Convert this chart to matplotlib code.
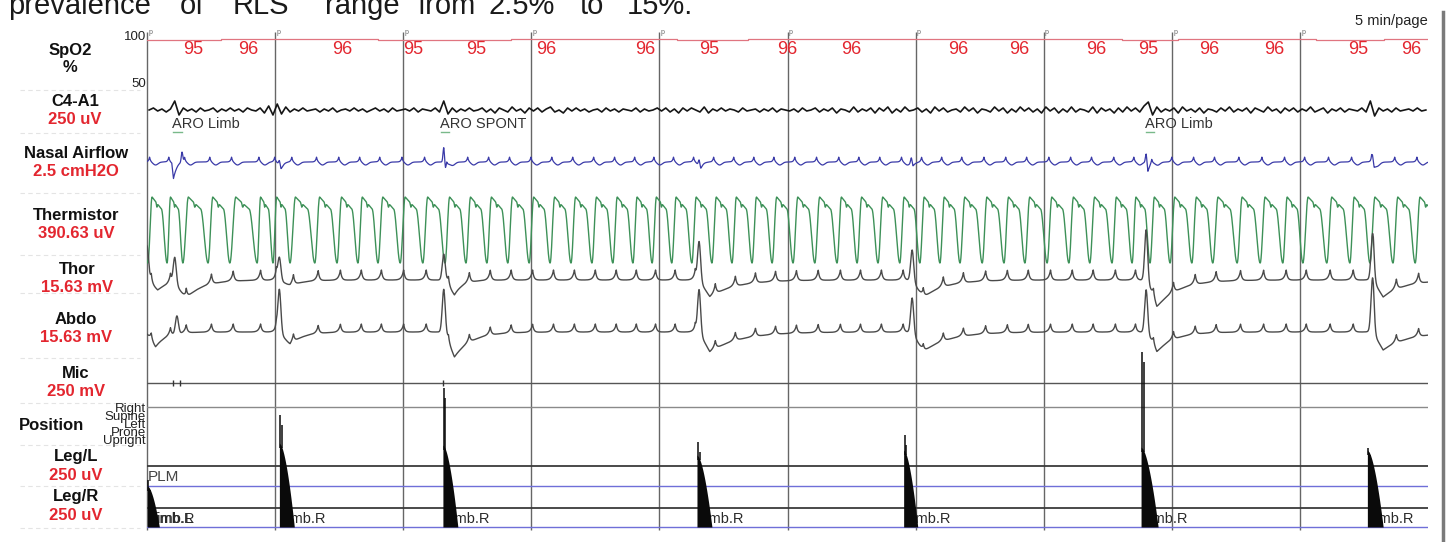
import numpy as np
import matplotlib
matplotlib.use("Agg")
import matplotlib.pyplot as plt

plt.rcParams["font.family"] = ["Liberation Sans", "DejaVu Sans"]

W, H = 1448, 542
PAGE_SEC = 300
EPOCH_SEC = 30

# ---------------------------------------------------------------- data
spo2_times = [10.8, 23.7, 45.7, 62.3, 77.0, 93.4, 116.6, 131.6, 149.9, 164.9,
              189.9, 204.2, 222.2, 234.4, 248.7, 263.9, 283.6, 296.0]
spo2_values = [95, 96, 96, 95, 95, 96, 96, 95, 96, 96,
               96, 96, 96, 95, 96, 96, 95, 96]

# onset (trough) of each breath on the thermistor, seconds into the page
breath_times = [0.2, 4.7, 8.4, 14.3, 19.4, 25.8, 29.5, 33.5, 39.3, 44.5,
                49.4, 54.1, 59.3, 64.6, 69.8, 74.7, 79.6, 84.5, 89.5, 94.4,
                99.3, 104.2, 109.1, 113.8, 118.3, 122.9, 127.6, 132.3, 137.0, 141.7,
                146.4, 151.3, 156.4, 161.6, 166.3, 171.2, 176.3, 181.0, 185.7, 190.4,
                195.6, 200.7, 205.6, 210.8, 215.9, 220.8, 226.0, 230.7, 234.9, 239.6,
                244.7, 249.6, 255.3, 260.7, 266.0, 270.7, 276.3, 281.7, 286.4, 291.8,
                297.0]

# C4-A1, one sample per second (pixels, up positive)
eeg_values = [
    0, 2, -1, 1, -2, 1, 9, -5, 2, -1,
    1, -2, 2, -1, 0, 2, -2, 1, -1, 2,
    -1, 1, -2, 2, 0, -1, 2, -3, 4, -5,
    6, -4, 3, -2, 1, -1, 2, -1, 0, 1,
    -2, 1, -1, 2, -2, 0, 1, -1, 2, -1,
    1, -2, 0, 2, -1, 1, -2, 2, -1, 0,
    1, -1, 2, -2, 1, 0, -1, 2, -2, 9,
    -4, 2, -2, 1, -1, 2, -1, 0, 2, -2,
    1, -3, 2, 0, -2, 3, -1, 1, -3, 2,
    -1, 2, -2, 1, 3, -2, 0, -3, 2, -1,
    2, -1, 1, -2, 0, 1, -2, 2, -1, 1,
    -2, 1, 0, -1, 2, -2, 1, -1, 0, 2,
    -1, 2, -2, 1, -3, 2, -1, 2, 0, -2,
    3, -3, 1, -1, 2, -1, 1, 0, -2, 2,
    -1, 0, 1, -2, 1, -1, 2, -2, 1, 0,
    -1, 1, -2, 2, -1, 0, 2, -2, 1, -1,
    2, -3, 1, 0, -2, 3, -2, 1, -1, 2,
    -3, 2, -1, 3, -3, 1, -2, 3, -1, 0,
    2, -2, 1, -3, 3, -1, 2, -2, 0, 1,
    -2, 3, -1, 2, -3, 1, 0, -2, 3, -1,
    2, -3, 1, -2, 3, -1, 2, -2, 1, -3,
    3, -1, 2, -3, 1, -2, 3, -2, 1, 0,
    -2, 3, -3, 2, -1, 1, -3, 2, -2, 3,
    -1, 2, -2, 4, 8, -5, 3, -2, 1, -1,
    2, -3, 3, -1, 1, -2, 2, -3, 1, 0,
    -2, 2, -1, 3, -2, 1, -1, 2, -3, 2,
    0, -2, 3, -1, 1, -3, 2, -1, 2, -2,
    1, -1, 3, -2, 0, 2, -3, 1, -1, 2,
    -2, 1, 0, -1, 2, -2, 9, -6, 2, -1,
    1, -2, 2, -1, 0, 1, -1, 2, -1, 0,
]

# effort-belt events: time (s), upward spike (px), following dip (px), recovery (s)
thor_event_t = [0.0, 6.5, 31.0, 69.5, 129.3, 179.2, 234.0, 287.0]
thor_event_up = [33, 25, 22, 25, 38, 30, 50, 40]
thor_event_dip = [10, 18, 6, 15, 17, 18, 27, 17]
thor_event_tau = [3, 4, 3, 2, 6, 5, 5, 5]

abdo_event_t = [-0.5, 7.0, 31.0, 69.5, 129.3, 179.2, 234.0, 287.0]
abdo_event_up = [0, 18, 42, 42, 42, 34, 42, 49]
abdo_event_dip = [15, 0, 13, 25, 20, 20, 20, 18]
abdo_event_tau = [2.5, 1, 3, 4, 7, 6, 4, 6]

nasal_event_t = [5.8, 8.2, 31.0, 69.5, 129.3, 179.0, 234.0, 287.0]
nasal_event_up = [0, 10, 4, 14, 5, 5, 8, 5]
nasal_event_dip = [14, 0, 4, 8, 4, 4, 10, 5]

# leg EMG bursts: onset (s), duration (s), top of burst (px row), tallest spike (px row)
limb_onsets = [0.1, 31.0, 69.3, 128.8, 177.2, 232.8, 285.8]
limb_durations = [2.8, 3.5, 3.5, 3.5, 3.3, 4.0, 3.7]
limb_tops = [486, 443, 445, 455, 450, 447, 450]
limb_spikes = [480, 415, 388, 442, 435, 352, 448]

arousal_times = [5.9, 68.6, 233.7]
arousal_labels = ["ARO Limb", "ARO SPONT", "ARO Limb"]

mic_tick_times = [6.0, 7.8, 69.4]

channels = [("SpO2", "%"), ("C4-A1", "250 uV"), ("Nasal Airflow", "2.5 cmH2O"),
            ("Thermistor", "390.63 uV"), ("Thor", "15.63 mV"), ("Abdo", "15.63 mV"),
            ("Mic", "250 mV"), ("Position", None), ("Leg/L", "250 uV"), ("Leg/R", "250 uV")]
position_levels = ["Right", "Supine", "Left", "Prone", "Upright"]

# ---------------------------------------------------------------- layout (pixel rows)
Y_SPO2_100, Y_SPO2_50 = 37, 84
Y_EEG, Y_NASAL = 110, 162
Y_THERM_TOP, Y_THERM_LOW = 197, 263
Y_THOR, Y_ABDO = 280, 332
Y_MIC, Y_POS = 383, 407
Y_LEGL, Y_PLM, Y_LEGR, Y_LIMBR = 466, 486, 508, 527

RED = "#e3262f"
TRACE_GRAY = "#4a4a4a"
GREEN = "#3d9158"
BLUE = "#3a3aa8"
EVENT_BLUE = "#6f6fd8"

fig = plt.figure(figsize=(W / 100, H / 100), dpi=100)
fig.patch.set_facecolor("white")
x0, x1 = 147, 1428
ax = fig.add_axes([x0 / W, 0, (x1 - x0) / W, 1])
ax.set_xlim(0, PAGE_SEC)
ax.set_ylim(H, 0)
ax.axis("off")


def fpos(x, y):
    return x / W, 1 - y / H


t = np.arange(0, PAGE_SEC + 0.05, 0.05)


def event_offset(tt, te, up, dip, tau, ramp=1.0, width=0.35):
    dt = tt - te
    spike = up * np.exp(-(dt / width) ** 2)
    d = np.where(dt < 0, 0.0,
                 np.where(dt < ramp, dip * dt / ramp, dip * np.exp(-(dt - ramp) / tau)))
    return -spike + d


# ---------------------------------------------------------------- SpO2
spo2_scale = (Y_SPO2_50 - Y_SPO2_100) / 50.0
sp_t = [0] + spo2_times + [PAGE_SEC]
sp_v = [spo2_values[0]] + spo2_values + [spo2_values[-1]]
sp_y = [Y_SPO2_100 - 2 + (100 - v) * spo2_scale for v in sp_v]
ax.plot(sp_t, sp_y, color="#e07580", lw=0.9, drawstyle="steps-mid", zorder=2)
for tv, v in zip(spo2_times, spo2_values):
    ax.text(tv, 49, str(v), color=RED, fontsize=13, ha="center", va="center", zorder=4)

# ---------------------------------------------------------------- C4-A1
eeg_t = np.arange(len(eeg_values)) + 0.5
ax.plot(eeg_t, Y_EEG - np.array(eeg_values), color="#151515", lw=1.2, zorder=2)
for ta, lab in zip(arousal_times, arousal_labels):
    ax.text(ta, 124, lab, color="#333333", fontsize=10.5, ha="left", va="center", zorder=4)
    ax.plot([ta + 0.2, ta + 2.2], [131.5, 131.5], color="#79b98a", lw=1, zorder=3)

# ---------------------------------------------------------------- respiration
bt = np.array(breath_times)
periods = np.diff(bt)
therm = np.zeros_like(t)
for i, tb in enumerate(np.concatenate([[bt[0] - periods[0]], bt])):
    per = periods[min(max(i - 1, 0), len(periods) - 1)]
    u = (t - tb) / per
    m = (u >= 0) & (u < 1)
    uu = u[m]
    h = np.where(uu < 0.22, 0.5 - 0.5 * np.cos(np.pi * uu / 0.22),
                 np.where(uu < 0.70, 1 - 0.18 * (uu - 0.22) / 0.48
                          - 0.06 * np.exp(-((uu - 0.47) / 0.03) ** 2),
                          0.82 * (0.5 + 0.5 * np.cos(np.pi * (uu - 0.70) / 0.30))))
    therm[m] = h
ax.plot(t, Y_THERM_LOW - (Y_THERM_LOW - Y_THERM_TOP) * therm, color=GREEN, lw=1.0, zorder=2)

thor = np.zeros_like(t)
abdo = np.zeros_like(t)
nasal = np.zeros_like(t)
for tb in bt:
    dt = t - (tb + 0.8)
    thor -= 10 * np.exp(-np.abs(dt) / np.where(dt < 0, 0.45, 0.3))
    abdo -= 8 * np.exp(-np.abs(dt) / np.where(dt < 0, 0.45, 0.3))
    dn = t - (tb + 0.4)
    nasal -= 5 * np.exp(-np.abs(dn) / 0.25)
    nasal += 3 * np.exp(-((dn - 1.4) / 0.8) ** 2)
for te, up, dip, tau in zip(thor_event_t, thor_event_up, thor_event_dip, thor_event_tau):
    thor += event_offset(t, te, up, dip, tau, ramp=2.5, width=0.5)
for te, up, dip, tau in zip(abdo_event_t, abdo_event_up, abdo_event_dip, abdo_event_tau):
    abdo += event_offset(t, te, up, dip, tau, ramp=2.5, width=0.5)
for te, up, dip in zip(nasal_event_t, nasal_event_up, nasal_event_dip):
    nasal += event_offset(t, te, up, dip, 0.6, ramp=0.4, width=0.25)

ax.plot(t, Y_NASAL + nasal, color=BLUE, lw=0.9, zorder=2)
ax.plot(t, Y_THOR + thor, color=TRACE_GRAY, lw=1.0, zorder=2)
ax.plot(t, Y_ABDO + abdo, color=TRACE_GRAY, lw=1.0, zorder=2)

# ---------------------------------------------------------------- Mic / Position
ax.plot([0, PAGE_SEC], [Y_MIC, Y_MIC], color="#555555", lw=1.0, zorder=2)
ax.vlines(mic_tick_times, Y_MIC - 3, Y_MIC + 3, color="#333333", lw=1.0, zorder=2)
ax.plot([0, PAGE_SEC], [Y_POS, Y_POS], color="#8a8a8a", lw=1.0, zorder=2)

# ---------------------------------------------------------------- legs
ax.plot([0, PAGE_SEC], [Y_LEGL, Y_LEGL], color="#3a3a3a", lw=1.3, zorder=2)
ax.plot([0, PAGE_SEC], [Y_PLM, Y_PLM], color=EVENT_BLUE, lw=1.0, zorder=2)
ax.plot([0, PAGE_SEC], [Y_LEGR, Y_LEGR], color="#3a3a3a", lw=1.3, zorder=2)
ax.plot([0, PAGE_SEC], [Y_LIMBR, Y_LIMBR], color=EVENT_BLUE, lw=1.0, zorder=2)
ax.text(0.2, 477, "PLM", color="#444444", fontsize=11, ha="left", va="center", zorder=1)

for t0, dur, top, spk in zip(limb_onsets, limb_durations, limb_tops, limb_spikes):
    yy = np.linspace(top, Y_LIMBR, 40)
    frac = (yy - top) / (Y_LIMBR - top)
    ax.fill_betweenx(yy, t0, t0 + dur * frac ** 0.6, color="#0a0a0a", lw=0, zorder=3)
    ax.vlines([t0 + 0.25, t0 + 0.6], [spk, spk + 10], top + 5, color="#0a0a0a", lw=1.1, zorder=3)
    ax.text(t0 + 0.2, 519, "Limb.R", color="#2a2a2a", fontsize=10.5, ha="left", va="center",
            zorder=1)
ax.text(limb_onsets[0] + 0.6, 519, "Limb.L", color="#2a2a2a", fontsize=10.5, ha="left",
        va="center", zorder=1)

# ---------------------------------------------------------------- epoch grid
epochs = np.arange(0, PAGE_SEC, EPOCH_SEC)
ax.vlines(epochs, 32, 530, color="#666666", lw=1.0, zorder=1, clip_on=False)
for e in epochs:
    ax.text(e + 0.3, 33, "p", fontsize=5, color="#666666", ha="left", va="center")

# ---------------------------------------------------------------- left labels
label_rows = [(50, 68), (102, 120), (154, 172), (216, 234), (269, 287),
              (320, 338), (373, 391), (425, None), (457, 475), (496, 515)]
label_x = [70, 75, 76, 76, 77, 76, 76, 52, 76, 76]
for (name, scale), (yn, ys), lx in zip(channels, label_rows, label_x):
    fig.text(*fpos(lx, yn), name, fontsize=12, fontweight="bold", color="#111111",
             ha="center", va="center")
    if scale is not None:
        fig.text(*fpos(lx, ys), scale, fontsize=12, fontweight="bold",
                 color="#111111" if scale == "%" else RED, ha="center", va="center")

for i, lev in enumerate(position_levels):
    fig.text(*fpos(146, 409 + 8 * i), lev, fontsize=9.5, color="#222222",
             ha="right", va="center")

fig.text(*fpos(146, 37), "100", fontsize=9.5, color="#222222", ha="right", va="center")
fig.text(*fpos(146, 84), "50", fontsize=9.5, color="#222222", ha="right", va="center")
fig.text(*fpos(1428, 21), "5 min/page", fontsize=10.5, color="#222222", ha="right",
         va="center")

# faint separators in the label column
for ys in [90, 133, 193, 255, 293, 358, 403, 445, 486, 528]:
    fig.lines.append(plt.Line2D([20 / W, 140 / W], [1 - ys / H, 1 - ys / H],
                                transform=fig.transFigure, color="#e4e4e4", lw=0.8,
                                ls=(0, (4, 3))))

# frame bar at the right edge
fig.lines.append(plt.Line2D([1443 / W, 1443 / W], [0, 1 - 12 / H], transform=fig.transFigure,
                            color="#7a7a7a", lw=2.5))

# heading text running above the figure
words = ["prevalence", "of", "RLS", "range", "from", "2.5%", "to", "15%."]
word_x = [8, 180, 233, 325, 418, 488, 580, 627]
for wd, wx in zip(words, word_x):
    fig.text(*fpos(wx, 14), wd, fontsize=21, color="#1a1a1a", ha="left", va="baseline")

fig.savefig("out.png", dpi=100, facecolor="white")
